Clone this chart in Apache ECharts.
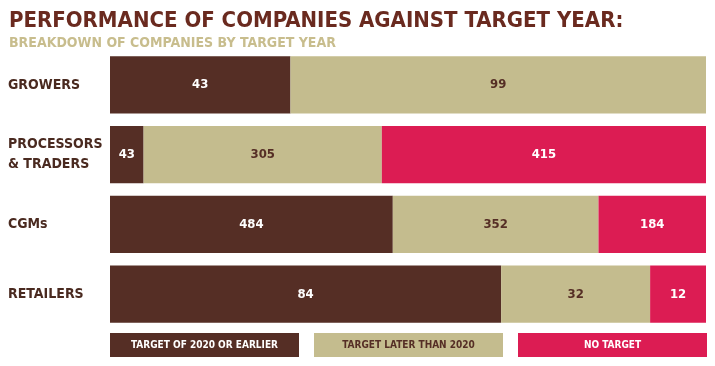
<!DOCTYPE html>
<html><head><meta charset="utf-8">
<script src="https://cdn.jsdelivr.net/npm/echarts@6/dist/echarts.min.js"></script>
<style>html,body{margin:0;padding:0;background:#fff}#c{width:715px;height:366px}</style>
</head><body><div id="c"></div>
<script>
var categories = ['GROWERS', 'PROCESSORS\n& TRADERS', 'CGMs', 'RETAILERS'];
var seriesNames = ['TARGET OF 2020 OR EARLIER', 'TARGET LATER THAN 2020', 'NO TARGET'];
var early = [43, 43, 484, 84];
var later = [99, 305, 352, 32];
var noTarget = [0, 415, 184, 12];
var colors = ['#552e25', '#c4bc8e', '#dc1c53'];
var labelColors = ['#ffffff', '#552e25', '#ffffff'];
var FONT = '"Liberation Sans Narrow", "DejaVu Sans Condensed", sans-serif';

var raw = [early, later, noTarget];
var totals = categories.map(function (c, i) { return early[i] + later[i] + noTarget[i]; });

var rich = {};
colors.forEach(function (c, k) {
  rich['b' + k] = { backgroundColor: c, color: labelColors[k], width: 189, height: 24, lineHeight: 24, align: 'center', verticalAlign: 'middle', fontFamily: FONT, fontWeight: 'bold', fontSize: 10 };
});

var chart = echarts.init(document.getElementById('c'));
chart.setOption({
  animation: false,
  title: {
    text: 'PERFORMANCE OF COMPANIES AGAINST TARGET YEAR:',
    subtext: 'BREAKDOWN OF COMPANIES BY TARGET YEAR',
    left: 4, top: 5, itemGap: 4, padding: [5, 5, 5, 5],
    textStyle: { fontFamily: FONT, fontWeight: 'bold', fontSize: 22, color: '#6a2a1f' },
    subtextStyle: { fontFamily: FONT, fontWeight: 'bold', fontSize: 14, color: '#c8bd8d' }
  },
  grid: { left: 110, right: 9, top: 50, bottom: 37, containLabel: false },
  xAxis: { type: 'value', min: 0, max: 100, show: false },
  yAxis: {
    type: 'category', data: categories, inverse: true,
    axisLine: { show: false }, axisTick: { show: false },
    axisLabel: { align: 'left', margin: 102, fontFamily: FONT, fontWeight: 'bold', fontSize: 14, color: '#4a2a20', lineHeight: 20 }
  },
  legend: {
    bottom: 9, left: 105, itemGap: 10, itemWidth: 0, itemHeight: 0, icon: 'none', padding: 0, width: 640,
    selectedMode: false,
    data: seriesNames,
    formatter: function (name) { return '{b' + seriesNames.indexOf(name) + '|' + name + '}'; },
    textStyle: { rich: rich }
  },
  series: seriesNames.map(function (n, k) {
    return {
      name: n, type: 'bar', stack: 'all', barCategoryGap: '18%',
      itemStyle: { color: colors[k] },
      label: {
        show: true, position: 'inside', color: labelColors[k], fontFamily: FONT, fontWeight: 'bold', fontSize: 13,
        formatter: function (p) { return raw[k][p.dataIndex] ? String(raw[k][p.dataIndex]) : ''; }
      },
      data: raw[k].map(function (v, i) { return v / totals[i] * 100; })
    };
  })
});
</script></body></html>
